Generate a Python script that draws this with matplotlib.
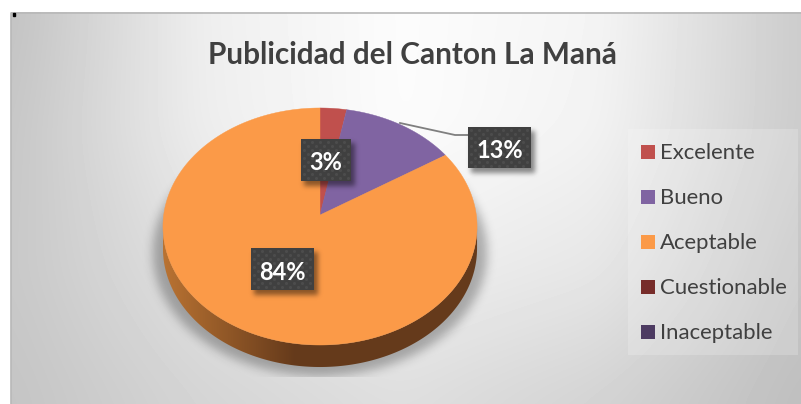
import numpy as np
import matplotlib
matplotlib.use("Agg")
import matplotlib.pyplot as plt
from matplotlib.patches import Polygon, Rectangle
from matplotlib.path import Path

titulo = "Publicidad del Canton La Maná"
categorias = ["Excelente", "Bueno", "Aceptable", "Cuestionable", "Inaceptable"]
valores = [3, 13, 84, 0, 0]
colores = ["#C0504D", "#8064A2", "#FB9A48", "#772C2A", "#4D3B62"]

W, H = 801, 404
plt.rcParams['font.family'] = ['Lato', 'DejaVu Sans']

# geometria del pastel en pixeles
CX, CY = 320, 215
R, A, C = 156.3, 117.4, 0.097
ALTO = 22

# grises del fondo
fondo_x = [11, 200, 400, 600, 801]
fondo_y = [12, 130, 270, 404]
fondo = [[194, 238, 252, 244, 203],
         [198, 237, 252, 242, 203],
         [200, 224, 238, 230, 196],
         [196, 212, 222, 210, 190]]


def proyectar(ang):
    # angulo desde arriba, sentido horario, con la perspectiva de Excel
    u, v = np.sin(ang), np.cos(ang)
    w = 1 + C * v
    return CX + R * u / w, CY - A * v / w


def blur(img, sigma):
    n = int(sigma * 3)
    k = np.exp(-np.arange(-n, n + 1) ** 2 / (2 * sigma ** 2))
    k = k / k.sum()
    img = np.apply_along_axis(lambda f: np.convolve(f, k, mode='same'), 0, img)
    return np.apply_along_axis(lambda f: np.convolve(f, k, mode='same'), 1, img)


yy, xx = np.mgrid[0:H, 0:W]
puntos = np.column_stack([xx.ravel() + 0.5, yy.ravel() + 0.5])


def sombra(ax, path, sigma, alfa, zorder, y_max=None):
    mask = path.contains_points(puntos).reshape(H, W).astype(float)
    mask = blur(mask, sigma) * alfa
    if y_max is not None:
        mask[y_max:, :] = 0
    rgba = np.zeros((H, W, 4))
    rgba[..., 3] = mask
    ax.imshow(rgba, extent=[0, W, H, 0], zorder=zorder, aspect='auto', interpolation='nearest')


fig = plt.figure(figsize=(W / 100, H / 100), dpi=100, facecolor='white')
ax = fig.add_axes([0, 0, 1, 1])
ax.axis('off')

# fondo
filas = np.array([np.interp(np.arange(W), fondo_x, f) for f in fondo])
gris = np.array([np.interp(np.arange(H), fondo_y, filas[:, i]) for i in range(W)]).T
gris = np.pad(gris, 60, mode='edge')
gris = blur(gris, 20)[60:-60, 60:-60] / 255
ax.imshow(gris[12:, 11:], extent=[11, W, H, 12], cmap='gray', vmin=0, vmax=1, aspect='auto', zorder=0)
ax.plot([10.5, 10.5, W], [H, 12.5, 12.5], color='#b8b8b8', lw=1.2, zorder=1)
ax.add_patch(Rectangle((13, 13), 2, 3, color='black', zorder=1))

# sombra del pastel
ang = np.linspace(0, 2 * np.pi, 721)
ex, ey = proyectar(ang)
sx, sy = CX + (ex - CX) * 1.065, 252 + (ey - 226) * 1.04
sombra(ax, Path(np.column_stack([sx, sy])), 5, 0.28, 2, y_max=377)

# lateral
izq, der = np.argmin(ex), np.argmax(ex)
abajo = np.arange(der, izq + 1)
lat = np.concatenate([np.column_stack([ex[abajo], ey[abajo]]),
                      np.column_stack([ex[abajo][::-1], ey[abajo][::-1] + ALTO])])
pat = Polygon(lat, closed=True, fc='none', ec='none', zorder=3)
ax.add_patch(pat)
t = np.clip((np.linspace(163, 478, 316) - 165) / 130, 0, 1)[None, :, None]
c1, c2 = np.array([0xB8, 0x72, 0x32]) / 255, np.array([0x65, 0x3A, 0x1B]) / 255
grad = c1 * (1 - t) + c2 * t
im = ax.imshow(grad, extent=[163, 479, 380, 200], aspect='auto', zorder=3)
im.set_clip_path(pat)

# cara superior
total = sum(valores)
acum = 0
for val, col in zip(valores, colores):
    if val == 0:
        continue
    a0, a1 = acum / total * 2 * np.pi, (acum + val) / total * 2 * np.pi
    acum += val
    aa = np.linspace(a0, a1, max(int(val * 6), 8))
    px, py = proyectar(aa)
    ax.fill(np.r_[CX, px], np.r_[CY, py], fc=col, ec=col, lw=0.3, zorder=4)

# linea guia
ax.plot([400, 455, 468], [123, 135, 135], color='#7f7f7f', lw=1.3, zorder=5)

# etiquetas
cajas = [(301, 139, 50, 42), (468, 127, 63, 41), (251, 248, 63, 42)]
etiquetas = [f"{v}%" for v in valores[:3]]
for (x, y, w, h), txt in zip(cajas, etiquetas):
    p = Path([(x + 3, y + 4), (x + w + 4, y + 4), (x + w + 4, y + h + 5), (x + 3, y + h + 5), (x + 3, y + 4)])
    sombra(ax, p, 2.5, 0.45, 6)
    ax.add_patch(Rectangle((x, y), w, h, fc='#404040', ec='none', zorder=7))
    gx, gy = np.meshgrid(np.arange(x + 3, x + w, 8), np.arange(y + 3, y + h, 8))
    ax.scatter(gx.ravel(), gy.ravel(), s=5, c='#4c4c4c', lw=0, zorder=8)
    gx, gy = np.meshgrid(np.arange(x + 7, x + w, 8), np.arange(y + 7, y + h, 8))
    ax.scatter(gx.ravel(), gy.ravel(), s=5, c='#4c4c4c', lw=0, zorder=8)
    ax.text(x + w / 2, y + h / 2 + 1, txt, color='white', fontsize=17, fontweight='bold',
            ha='center', va='center_baseline', zorder=9)

# titulo
ax.text(412, 55, titulo, color='#404040', fontsize=21.4, fontweight='bold', ha='center', va='center', zorder=5)

# leyenda
ax.add_patch(Rectangle((628, 129), 170, 226, fc='white', ec='none', alpha=0.2, zorder=2))
for i, (cat, col) in enumerate(zip(categorias, colores)):
    y = 151.5 + 45 * i
    ax.add_patch(Rectangle((641, y - 7), 14, 14, fc=col, ec='none', zorder=5))
    ax.text(660, y - 0.5, cat, color='#404040', fontsize=15.9, ha='left', va='center_baseline', zorder=5)

ax.set_xlim(0, W)
ax.set_ylim(H, 0)
fig.savefig('out.png', dpi=100)
